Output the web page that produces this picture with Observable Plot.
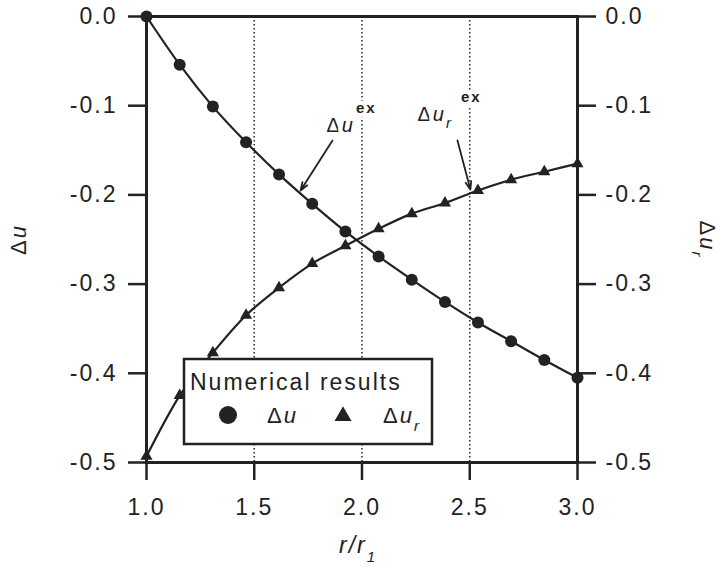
<!DOCTYPE html>
<html>
<head>
<meta charset="utf-8">
<script src="https://cdn.jsdelivr.net/npm/d3@7"></script>
<script src="https://cdn.jsdelivr.net/npm/@observablehq/plot@0.6"></script>
<style>
  html, body { margin: 0; padding: 0; background: #fff; }
  svg text { font-family: "Liberation Sans", Arial, Helvetica, sans-serif; }
</style>
</head>
<body>
<div id="chart"></div>
<script>
// ---- data ----
const rRatio = [1.0, 1.154, 1.308, 1.462, 1.615, 1.769, 1.923, 2.077, 2.231, 2.385, 2.538, 2.692, 2.846, 3.0];
const deltaU = [0, -0.054, -0.101, -0.141, -0.177, -0.210, -0.241, -0.269, -0.295, -0.320, -0.343, -0.364, -0.385, -0.405];
const deltaUr = [-0.493, -0.425, -0.377, -0.335, -0.304, -0.277, -0.257, -0.238, -0.221, -0.209, -0.195, -0.183, -0.174, -0.165];
const xTicks = [1.0, 1.5, 2.0, 2.5, 3.0];
const yTicks = [0, -0.1, -0.2, -0.3, -0.4, -0.5];
const gridX = [1.5, 2.0, 2.5];
const annoText = ["du_ex", "dur_ex"];
const annoX = [1.835, 2.2575];
const annoY = [-0.129, -0.1177];
const leaderX1 = [1.863, 2.443];
const leaderY1 = [-0.139, -0.139];
const leaderX2 = [1.715, 2.503];
const leaderY2 = [-0.195, -0.194];

const ink = "#222";
const du = rRatio.map((x, i) => ({x, y: deltaU[i]}));
const dur = rRatio.map((x, i) => ({x, y: deltaUr[i]}));
const annos = annoText.map((k, i) => ({k, x: annoX[i], y: annoY[i]}));
const leaders = leaderX1.map((x1, i) => ({x1, y1: leaderY1[i], x2: leaderX2[i], y2: leaderY2[i]}));
const fmt = d => (Math.abs(d) < 1e-9 ? 0 : d).toFixed(1);

const svg = Plot.plot({
  width: 720,
  height: 567,
  marginLeft: 146,
  marginRight: 143,
  marginTop: 16,
  marginBottom: 105,
  x: {domain: [1, 3]},
  y: {domain: [-0.5, 0]},
  style: {background: "#fff", color: ink, fontSize: "23px", letterSpacing: "2px", fontFamily: "'Liberation Sans', Arial, sans-serif"},
  marks: [
    Plot.ruleX(gridX, {stroke: "#333", strokeWidth: 1.6, strokeDasharray: "1.6,2.4"}),
    Plot.line(du, {x: "x", y: "y", curve: "monotone-x", stroke: ink, strokeWidth: 2.2}),
    Plot.line(dur, {x: "x", y: "y", curve: "monotone-x", stroke: ink, strokeWidth: 2.2}),
    Plot.dot(du, {x: "x", y: "y", r: 6, fill: ink, stroke: "none", symbol: "circle"}),
    Plot.dot(dur, {x: "x", y: "y", r: 4.5, fill: ink, stroke: "none", symbol: "triangle"}),
    Plot.arrow(leaders, {x1: "x1", y1: "y1", x2: "x2", y2: "y2", stroke: ink, strokeWidth: 1.8, headLength: 7, headAngle: 40}),
    Plot.text(annos, {x: "x", y: "y", text: "k", textAnchor: "start", lineAnchor: "bottom", fontSize: 20, fill: ink, stroke: "#fff", strokeWidth: 9, className: "anno"}),
    Plot.frame({stroke: ink, strokeWidth: 3}),
    Plot.axisX({ticks: xTicks, tickFormat: fmt, tickSize: 18, tickPadding: 18, strokeWidth: 2.5, fontSize: 23, label: null}),
    Plot.axisY({anchor: "left", ticks: yTicks, tickFormat: fmt, tickSize: 18, tickPadding: 11, strokeWidth: 2.5, fontSize: 23, label: null}),
    Plot.axisY({anchor: "right", ticks: yTicks, tickFormat: fmt, tickSize: 18, tickPadding: 10, strokeWidth: 2.5, fontSize: 23, label: null}),
    Plot.text(["r/r1"], {frameAnchor: "bottom", dx: -23, dy: 90, textAnchor: "start", lineAnchor: "bottom", fontSize: 23, fontStyle: "italic", fill: ink, className: "xlab"}),
    Plot.text(["Δu"], {frameAnchor: "left", dx: -121, rotate: -90, textAnchor: "middle", lineAnchor: "bottom", fontSize: 22, fill: ink, className: "ylabL"}),
    Plot.text(["Δur"], {frameAnchor: "right", dx: 122, rotate: 90, textAnchor: "middle", lineAnchor: "bottom", fontSize: 22, fill: ink, className: "ylabR"})
  ]
});

const S = d3.select(svg);
// rich text (italic / sub / superscripts) as real SVG text
S.selectAll("g.xlab text").html('r/r<tspan dy="9" font-size="15">1</tspan>');
S.selectAll("g.ylabL text").html('Δ<tspan font-style="italic">u</tspan>');
S.selectAll("g.ylabR text").html('Δ<tspan font-style="italic">u</tspan><tspan font-style="italic" dy="8" font-size="15">r</tspan>');
S.selectAll("g.anno text").each(function() {
  const t = d3.select(this);
  const k = t.text();
  if (k === "du_ex") {
    t.html('Δ<tspan font-style="italic">u</tspan><tspan dx="1" dy="-19" font-size="15" font-weight="bold">ex</tspan>');
  } else {
    t.html('Δ<tspan font-style="italic">u</tspan><tspan font-style="italic" dy="7" font-size="15">r</tspan><tspan dx="8" dy="-26" font-size="15" font-weight="bold">ex</tspan>');
  }
});

// legend box
const lg = S.append("g").attr("fill", ink).attr("font-size", 23).attr("text-anchor", "start");
lg.append("rect").attr("x", 184).attr("y", 359).attr("width", 248).attr("height", 85)
  .attr("fill", "#fff").attr("stroke", ink).attr("stroke-width", 2.5);
lg.append("text").attr("x", 190).attr("y", 390).attr("text-anchor", "start").text("Numerical results");
lg.append("circle").attr("cx", 228).attr("cy", 415).attr("r", 9);
lg.append("text").attr("x", 267).attr("y", 423).attr("font-size", 22).attr("text-anchor", "start")
  .html('Δ<tspan font-style="italic">u</tspan>');
lg.append("path").attr("transform", "translate(343,416)")
  .attr("d", d3.symbol(d3.symbolTriangle, 125)());
lg.append("text").attr("x", 383).attr("y", 423).attr("font-size", 22).attr("text-anchor", "start")
  .html('Δ<tspan font-style="italic">u</tspan><tspan font-style="italic" dy="8" font-size="15">r</tspan>');

document.getElementById("chart").appendChild(svg);
</script>
</body>
</html>
